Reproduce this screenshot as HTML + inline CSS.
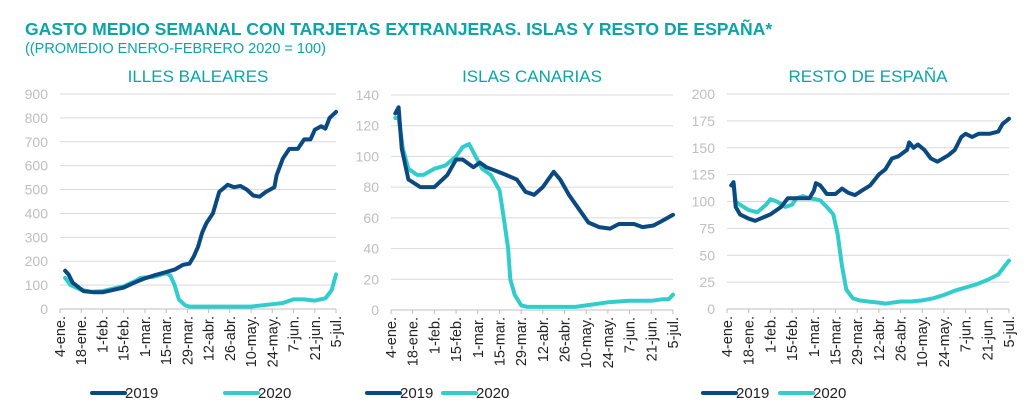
<!DOCTYPE html>
<html><head><meta charset="utf-8"><style>
body{margin:0;background:#fff;width:1031px;height:410px;overflow:hidden;font-family:"Liberation Sans",sans-serif}
</style></head><body>
<svg id="s" width="1031" height="410" xmlns="http://www.w3.org/2000/svg" font-family="Liberation Sans, sans-serif">
<text x="25" y="35" font-size="17.6" font-weight="bold" fill="#0aa5a8">GASTO MEDIO SEMANAL CON TARJETAS EXTRANJERAS. ISLAS Y RESTO DE ESPAÑA*</text>
<text x="25" y="53" font-size="14.5" fill="#0aa5a8">((PROMEDIO ENERO-FEBRERO 2020 = 100)</text>
</svg>
<script>
var s=document.getElementById('s'),NS='http://www.w3.org/2000/svg';
function el(t,a,txt){var e=document.createElementNS(NS,t);for(var k in a)e.setAttribute(k,a[k]);if(txt!=null)e.textContent=txt;s.appendChild(e);return e;}
var labs=['4-ene.','18-ene.','1-feb.','15-feb.','1-mar.','15-mar.','29-mar.','12-abr.','26-abr.','10-may.','24-may.','7-jun.','21-jun.','5-jul.'];
var panels=[
{t:'ILLES BALEARES',x0:60,x1:336,y0:309,y1:94,max:900,step:100,lx:48,leg:[92,225],
a:[[0.24,160],[0.4,145],[0.6,110],[1.1,75],[1.6,70],[2,70],[2.5,80],[3,90],[3.5,110],[3.9,125],[4.4,140],[5,155],[5.4,165],[5.8,185],[6.1,190],[6.3,220],[6.5,260],[6.7,320],[6.9,360],[7.2,400],[7.5,490],[7.9,520],[8.2,510],[8.5,515],[8.8,500],[9.1,475],[9.4,470],[9.7,490],[10.1,510],[10.2,560],[10.5,630],[10.8,670],[11.2,670],[11.5,710],[11.8,710],[12,750],[12.3,765],[12.5,755],[12.7,800],[13,825]],
b:[[0.24,130],[0.5,100],[1,80],[1.5,72],[2,75],[2.5,85],[3,95],[3.5,115],[3.8,130],[4.4,135],[5,150],[5.2,140],[5.4,100],[5.6,40],[5.9,15],[6.1,10],[9,10],[10,20],[10.5,25],[11,40],[11.5,40],[12,35],[12.5,45],[12.8,80],[13,145]]},
{t:'ISLAS CANARIAS',x0:391,x1:673,y0:310,y1:95,max:140,step:20,lx:380,leg:[367,443],
a:[[0.2,128],[0.35,132],[0.5,105],[0.8,85],[1.35,80],[2,80],[2.6,88],[3,98],[3.3,98],[3.8,93],[4.1,96],[4.4,93],[5.3,88],[5.8,85],[6.2,77],[6.6,75],[7,80],[7.5,90],[7.8,85],[8.2,75],[8.7,65],[9.1,57],[9.6,54],[10.1,53],[10.5,56],[11.2,56],[11.6,54],[12.1,55],[12.5,58],[13,62]],
b:[[0.2,125],[0.35,125],[0.55,105],[0.8,92],[1.2,88],[1.5,88],[2,92],[2.5,94],[3,100],[3.3,106],[3.6,108],[3.9,100],[4.2,92],[4.6,88],[5,78],[5.2,60],[5.4,40],[5.5,20],[5.7,10],[6,3],[6.3,2],[8.5,2],[9,3],[10,5],[11,6],[12,6],[12.5,7],[12.8,7],[13,10]]},
{t:'RESTO DE ESPAÑA',x0:727,x1:1009,y0:309,y1:94,max:200,step:25,lx:715,leg:[703,780],
a:[[0.2,115],[0.3,118],[0.4,95],[0.6,88],[1,84],[1.3,82],[2,88],[2.5,95],[2.8,103],[3.3,103],[3.8,103],[4,110],[4.1,117],[4.3,115],[4.6,107],[5,107],[5.3,112],[5.6,108],[5.9,106],[6.2,110],[6.6,115],[7,125],[7.3,130],[7.6,140],[7.9,142],[8.3,148],[8.4,155],[8.6,150],[8.8,153],[9.1,148],[9.4,140],[9.7,137],[10.2,143],[10.5,148],[10.8,160],[11,163],[11.3,160],[11.6,163],[12.1,163],[12.5,165],[12.7,172],[13,177]],
b:[[0.2,115],[0.3,118],[0.4,100],[0.6,97],[1,92],[1.4,90],[1.8,97],[2,102],[2.3,100],[2.7,95],[3,97],[3.2,103],[3.5,105],[3.8,103],[4.1,102],[4.3,101],[4.6,95],[4.9,88],[5.1,70],[5.3,40],[5.5,18],[5.8,10],[6.1,8],[6.5,7],[7,6],[7.3,5],[8,7],[8.5,7],[9,8],[9.5,10],[10,13],[10.5,17],[11,20],[11.5,23],[12,27],[12.5,32],[12.8,40],[13,45]]}
];
panels.forEach(function(p){
 var cx=(p.x0+p.x1)/2;
 el('text',{x:cx,y:82,'font-size':17,fill:'#0aa5a8','text-anchor':'middle'},p.t);
 for(var v=0;v<=p.max;v+=p.step){
  var y=p.y0+(p.y1-p.y0)*v/p.max;
  el('line',{x1:p.x0,x2:p.x1,y1:y,y2:y,stroke:v?'#d9d9d9':'#bfbfbf','stroke-width':1});
  el('text',{x:p.x0-12,y:y+5,'font-size':14,fill:'#bfbfbf','text-anchor':'end'},v);
 }
 var dx=(p.x1-p.x0)/13;
 for(var i=0;i<14;i++){
  var x=p.x0+i*dx;
  el('line',{x1:x,x2:x,y1:p.y0,y2:p.y0+4,stroke:'#bfbfbf'});
  el('text',{x:0,y:0,'font-size':14.5,fill:'#222','text-anchor':'end',transform:'translate('+(x+5)+','+(p.y0+7)+') rotate(-90)'},labs[i]);
 }
 function path(d,c){var str='';d.forEach(function(q,j){str+=(j?'L':'M')+(p.x0+q[0]*dx).toFixed(1)+','+(p.y0+(p.y1-p.y0)*q[1]/p.max).toFixed(1);});
  el('path',{d:str,fill:'none',stroke:c,'stroke-width':4,'stroke-linejoin':'round','stroke-linecap':'round'});}
 path(p.b,'#33cccc');path(p.a,'#0b4a80');
 el('line',{x1:p.leg[0],x2:p.leg[0]+33,y1:393,y2:393,stroke:'#0b4a80','stroke-width':4,'stroke-linecap':'round'});
 el('text',{x:p.leg[0]+33,y:398,'font-size':15,fill:'#222'},'2019');
 el('line',{x1:p.leg[1],x2:p.leg[1]+33,y1:393,y2:393,stroke:'#33cccc','stroke-width':4,'stroke-linecap':'round'});
 el('text',{x:p.leg[1]+33,y:398,'font-size':15,fill:'#222'},'2020');
});
</script>
</body></html>
